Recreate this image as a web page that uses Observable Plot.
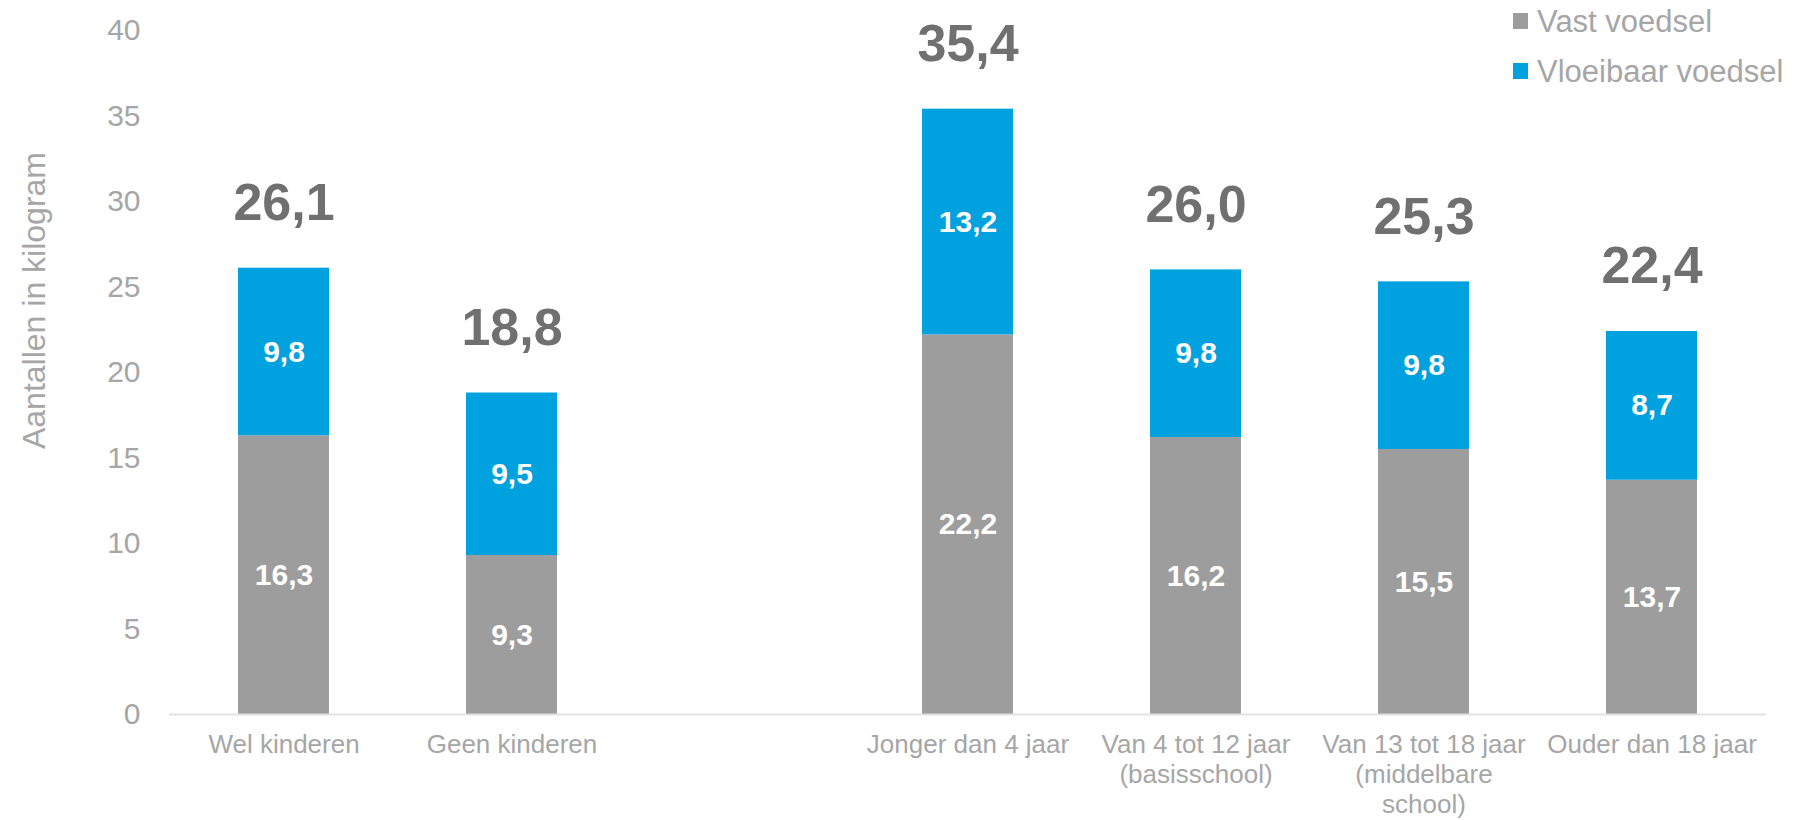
<!DOCTYPE html>
<html><head><meta charset="utf-8">
<script src="https://cdn.jsdelivr.net/npm/d3@7"></script>
<script src="https://cdn.jsdelivr.net/npm/@observablehq/plot@0.6"></script>
<style>
body{margin:0;background:#fff;font-family:"Liberation Sans",Arial,sans-serif;}
#wrap{position:relative;width:1795px;height:820px;}
.item{position:absolute;white-space:nowrap;font-size:31px;line-height:31px;color:#a6a6a6;}
.sw{position:absolute;width:15px;height:16px;}
</style></head><body>
<div id="wrap"></div>
<script>
const categories = ["Wel kinderen","Geen kinderen","gap","Jonger dan 4 jaar","Van 4 tot 12 jaar","Van 13 tot 18 jaar","Ouder dan 18 jaar"];
const tickLabels = ["Wel kinderen","Geen kinderen","","Jonger dan 4 jaar","Van 4 tot 12 jaar\n(basisschool)","Van 13 tot 18 jaar\n(middelbare\nschool)","Ouder dan 18 jaar"];
const seriesNames = ["Vast voedsel","Vloeibaar voedsel"];
const seriesColors = ["#9d9d9d","#00a1df"];
const vast = [16.3, 9.3, null, 22.2, 16.2, 15.5, 13.7];
const vloeibaar = [9.8, 9.5, null, 13.2, 9.8, 9.8, 8.7];
const totals = [26.1, 18.8, null, 35.4, 26.0, 25.3, 22.4];
const yTicks = [0,5,10,15,20,25,30,35,40];

const fmt = v => d3.format(".1f")(v).replace(".", ",");
const rows = [];
categories.forEach((c,i) => {
  if (vast[i] != null) rows.push({cat:c, type:seriesNames[0], value:vast[i]});
});
categories.forEach((c,i) => {
  if (vloeibaar[i] != null) rows.push({cat:c, type:seriesNames[1], value:vloeibaar[i]});
});
const totalRows = categories.map((c,i)=>({cat:c,total:totals[i]})).filter(d=>d.total!=null);

const font = '"Liberation Sans", Arial, sans-serif';
const chart = Plot.plot({
  width: 1795, height: 820,
  marginLeft: 169, marginRight: 29, marginTop: 30, marginBottom: 106,
  style: {fontFamily: font, background: "#fff"},
  x: {domain: categories, paddingInner: 0.6, paddingOuter: 0.3, label: null},
  y: {domain: [0,40], label: null},
  color: {domain: seriesNames, range: seriesColors},
  marks: [
    Plot.barY(rows, {x:"cat", y:"value", fill:"type", order: seriesNames}),
    Plot.ruleY([0], {stroke:"#e2e2e2", strokeWidth:2}),
    Plot.text(rows, Plot.stackY({x:"cat", y:"value", z:"type", order: seriesNames, text: d=>fmt(d.value), fill:"#fff", fontSize:30, fontWeight:"bold", lineAnchor:"middle"})),
    Plot.text(totalRows, {x:"cat", y:"total", text: d=>fmt(d.total), fill:"#707070", fontSize:52, fontWeight:"bold", lineAnchor:"bottom", dy:-48}),
    Plot.axisY({ticks: yTicks, tickSize:0, tickPadding:29, fontSize:30, fill:"#a6a6a6", label:null}),
    Plot.axisX({tickSize:0, tickPadding:17, fontSize:26, fill:"#a6a6a6", lineHeight:1.15, label:null,
      tickFormat: d => tickLabels[categories.indexOf(d)]}),
    Plot.text(["Aantallen in kilogram"], {frameAnchor:"left", rotate:-90, dx:-147, dy:-72, lineAnchor:"top", textAnchor:"middle", fontSize:32, fill:"#a6a6a6"})
  ]
});
const wrap = document.getElementById("wrap");
wrap.appendChild(chart);
seriesNames.forEach((n,i)=>{
  const sw = document.createElement("div");
  sw.className="sw"; sw.style.left="1513px"; sw.style.top=(13+50*i)+"px"; sw.style.background=seriesColors[i];
  wrap.appendChild(sw);
  const t = document.createElement("div");
  t.className="item"; t.style.left="1537px"; t.style.top=(6+50*i)+"px"; t.textContent=n;
  wrap.appendChild(t);
});
</script>
</body></html>
